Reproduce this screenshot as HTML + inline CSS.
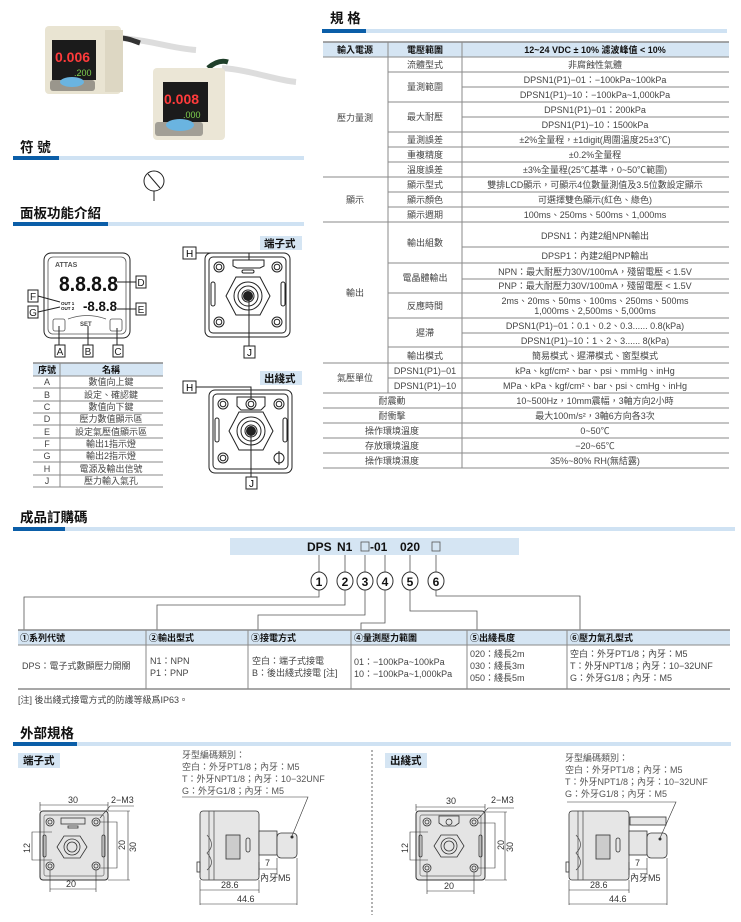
<!DOCTYPE html>
<html><head><meta charset="utf-8"><style>
html,body{margin:0;padding:0;background:#fff;}
svg{display:block;font-family:"Liberation Sans","Noto Sans CJK TC",sans-serif;}
.t{font-size:9px;fill:#444;}
.h{font-size:13.5px;font-weight:bold;fill:#111;}
.b{font-weight:bold;fill:#111;}
.ln{stroke:#8a8a8a;stroke-width:1;fill:none;}
.k{stroke:#222;stroke-width:1;fill:none;}
.g{stroke:#555;stroke-width:0.8;fill:none;}
</style></head><body>
<svg width="741" height="922" viewBox="0 0 741 922" xmlns="http://www.w3.org/2000/svg">
<!-- product photos -->
<path d="M120,38 C150,40 170,48 196,50" stroke="#ddd" stroke-width="6" fill="none"/>
<path d="M120,38 C128,38 134,41 140,43" stroke="#333" stroke-width="5" fill="none"/>
<rect x="45" y="26" width="76" height="68" rx="4" fill="#e9e4d2"/>
<rect x="105" y="30" width="18" height="62" fill="#ddd7c3"/>
<rect x="52" y="40" width="44" height="40" fill="#1b1b1b"/>
<text x="55" y="62" font-size="14" fill="#ff3b3b" font-weight="bold">0.006</text>
<text x="74" y="76" font-size="9" fill="#7fd04f">.200</text>
<rect x="50" y="80" width="45" height="11" rx="3" fill="#9a968c"/>
<ellipse cx="72" cy="82" rx="12" ry="5" fill="#6ab4e0"/>
<path d="M222,68 C250,70 275,80 296,82" stroke="#ddd" stroke-width="6" fill="none"/>
<path d="M208,68 C215,62 222,60 228,62" stroke="#1f3f2a" stroke-width="5" fill="none"/>
<rect x="153" y="68" width="72" height="72" rx="4" fill="#ebe6d6"/>
<rect x="163" y="82" width="45" height="40" fill="#1b1b1b"/>
<text x="164" y="104" font-size="14" fill="#ff3b3b" font-weight="bold">0.008</text>
<text x="183" y="118" font-size="9" fill="#7fd04f">.000</text>
<rect x="155" y="122" width="48" height="14" rx="3" fill="#a29f96"/>
<ellipse cx="180" cy="125" rx="14" ry="6" fill="#6ab4e0"/>

<!-- section headers -->
<text x="330" y="23" class="h">規 格</text>
<rect x="322" y="29" width="44" height="4" fill="#0b5ea8"/><rect x="366" y="29" width="361" height="4" fill="#cfe2f3"/>
<text x="20" y="152" class="h">符 號</text>
<rect x="13" y="156" width="46" height="4" fill="#0b5ea8"/><rect x="59" y="156" width="245" height="4" fill="#cfe2f3"/>
<text x="20" y="218" class="h">面板功能介紹</text>
<rect x="13" y="222" width="95" height="4" fill="#0b5ea8"/><rect x="108" y="222" width="196" height="4" fill="#cfe2f3"/>
<text x="20" y="522" class="h">成品訂購碼</text>
<rect x="13" y="527" width="52" height="4" fill="#0b5ea8"/><rect x="65" y="527" width="670" height="4" fill="#cfe2f3"/>
<text x="20" y="738" class="h">外部規格</text>
<rect x="13" y="742" width="64" height="4" fill="#0b5ea8"/><rect x="77" y="742" width="654" height="4" fill="#cfe2f3"/>

<!-- symbol -->
<circle cx="154" cy="181" r="10" class="k"/>
<line x1="148" y1="174" x2="160" y2="188" class="k"/>
<line x1="154" y1="191" x2="154" y2="201" class="k"/>

<!-- SPEC TABLE -->
<rect x="323" y="42" width="406" height="15" fill="#d5e5f3"/>
<g class="ln">
<line x1="323" y1="42" x2="729" y2="42" stroke-width="1.5"/>
<line x1="388" y1="42" x2="388" y2="393"/><line x1="462" y1="42" x2="462" y2="468"/>
<path d="M462 57H729M462 72H729M462 87H729M462 102H729M462 117H729M462 132H729M462 147H729M462 162H729M462 177H729M462 192H729M462 207H729M462 222H729M462 247H729M462 263H729M462 279H729M462 293H729M462 318H729M462 333H729M462 347H729M462 363H729M462 378H729M462 393H729M462 408H729M462 423H729M462 438H729M462 453H729M462 468H729"/>
<path d="M388 57H462M388 72H462M388 102H462M388 132H462M388 147H462M388 162H462M388 177H462M388 192H462M388 207H462M388 222H462M388 263H462M388 293H462M388 318H462M388 347H462M388 363H462M388 378H462"/>
<path d="M323 57H388M323 177H388M323 222H388M323 363H388M323 393H462M323 408H462M323 423H462M323 438H462M323 453H462M323 468H462"/>
</g>
<g class="t" text-anchor="middle">
<text x="355" y="53" class="b" style="font-size:9px">輸入電源</text>
<text x="425" y="53" class="b" style="font-size:9px">電壓範圍</text>
<text x="595" y="53" class="b" style="font-size:9px">12~24 VDC ± 10%  濾波峰值 &lt; 10%</text>
<text x="355" y="121">壓力量測</text><text x="355" y="203">顯示</text><text x="355" y="296">輸出</text><text x="355" y="381">氣壓單位</text>
<text x="425" y="68">流體型式</text><text x="425" y="90">量測範圍</text><text x="425" y="120">最大耐壓</text>
<text x="425" y="143">量測誤差</text><text x="425" y="158">重複精度</text><text x="425" y="173">溫度誤差</text>
<text x="425" y="188">顯示型式</text><text x="425" y="203">顯示顏色</text><text x="425" y="218">顯示週期</text>
<text x="425" y="246">輸出組數</text><text x="425" y="281">電晶體輸出</text><text x="425" y="309">反應時間</text>
<text x="425" y="336">遲滯</text><text x="425" y="359">輸出模式</text>
<text x="425" y="374">DPSN1(P1)−01</text><text x="425" y="389">DPSN1(P1)−10</text>
<text x="392" y="404">耐震動</text><text x="392" y="419">耐衝擊</text><text x="392" y="434">操作環境溫度</text><text x="392" y="449">存放環境溫度</text><text x="392" y="464">操作環境濕度</text>
<text x="595" y="68">非腐蝕性氣體</text>
<text x="595" y="83">DPSN1(P1)−01：−100kPa~100kPa</text>
<text x="595" y="98">DPSN1(P1)−10：−100kPa~1,000kPa</text>
<text x="595" y="113">DPSN1(P1)−01：200kPa</text>
<text x="595" y="128">DPSN1(P1)−10：1500kPa</text>
<text x="595" y="143">±2%全量程，±1digit(周圍溫度25±3℃)</text>
<text x="595" y="158">±0.2%全量程</text>
<text x="595" y="173">±3%全量程(25℃基準，0~50℃範圍)</text>
<text x="595" y="188">雙排LCD顯示，可顯示4位數量測值及3.5位數設定顯示</text>
<text x="595" y="203">可選擇雙色顯示(紅色、綠色)</text>
<text x="595" y="218">100ms、250ms、500ms、1,000ms</text>
<text x="595" y="239">DPSN1：內建2組NPN輸出</text>
<text x="595" y="259">DPSP1：內建2組PNP輸出</text>
<text x="595" y="275">NPN：最大耐壓力30V/100mA，殘留電壓 &lt; 1.5V</text>
<text x="595" y="289">PNP：最大耐壓力30V/100mA，殘留電壓 &lt; 1.5V</text>
<text x="595" y="304">2ms、20ms、50ms、100ms、250ms、500ms</text>
<text x="595" y="314">1,000ms、2,500ms、5,000ms</text>
<text x="595" y="329">DPSN1(P1)−01：0.1、0.2、0.3...... 0.8(kPa)</text>
<text x="595" y="344">DPSN1(P1)−10：1、2、3...... 8(kPa)</text>
<text x="595" y="359">簡易模式、遲滯模式、窗型模式</text>
<text x="595" y="374">kPa、kgf/cm²、bar、psi、mmHg、inHg</text>
<text x="595" y="389">MPa、kPa、kgf/cm²、bar、psi、cmHg、inHg</text>
<text x="595" y="404">10~500Hz，10mm震幅，3軸方向2小時</text>
<text x="595" y="419">最大100m/s²，3軸6方向各3次</text>
<text x="595" y="434">0~50℃</text>
<text x="595" y="449">−20~65℃</text>
<text x="595" y="464">35%~80% RH(無結露)</text>
</g>

<!-- PANEL front -->
<rect x="44" y="253" width="86" height="85" rx="7" class="k" stroke-width="1.3"/>
<rect x="48" y="257" width="78" height="77" rx="5" class="g" stroke="#bbb"/>
<text x="55" y="267" font-size="7" font-weight="bold" fill="#555">ATTAS</text>
<text x="59" y="291" font-size="21" font-weight="bold" fill="#111" textLength="59" lengthAdjust="spacingAndGlyphs">8.8.8.8</text>
<text x="83" y="311" font-size="14" font-weight="bold" fill="#111" textLength="34" lengthAdjust="spacingAndGlyphs">-8.8.8</text>
<text x="61" y="305" font-size="4.5" font-weight="bold" fill="#111">OUT 1</text>
<text x="61" y="310" font-size="4.5" font-weight="bold" fill="#111">OUT 2</text>
<rect x="53" y="319" width="12" height="12" rx="2" class="g"/>
<rect x="110" y="319" width="12" height="12" rx="2" class="g"/>
<path d="M68 319 Q87 312 106 319" class="g" stroke="#aaa"/>
<text x="80" y="326" font-size="6" font-weight="bold" fill="#444">SET</text>
<g class="k">
<rect x="136" y="276" width="10" height="12"/><line x1="117" y1="282" x2="136" y2="282"/>
<rect x="136" y="303" width="10" height="12"/><line x1="117" y1="309" x2="136" y2="309"/>
<rect x="28" y="290" width="10" height="12"/><path d="M38 296 L60 302"/>
<rect x="28" y="306" width="10" height="12"/><path d="M38 312 L60 307"/>
<rect x="55" y="345" width="10" height="12"/><line x1="59" y1="326" x2="59" y2="345"/>
<rect x="83" y="345" width="10" height="12"/><line x1="88" y1="326" x2="88" y2="345"/>
<rect x="113" y="345" width="10" height="12"/><line x1="117" y1="328" x2="117" y2="345"/>
</g>
<g font-size="10" fill="#222" text-anchor="middle">
<text x="141" y="286">D</text><text x="141" y="313">E</text><text x="33" y="300">F</text><text x="33" y="316">G</text>
<text x="60" y="355">A</text><text x="88" y="355">B</text><text x="118" y="355">C</text>
</g>

<!-- panel table -->
<rect x="33" y="363" width="130" height="13" fill="#d5e5f3"/>
<g class="ln">
<line x1="33" y1="363" x2="163" y2="363" stroke-width="1.5"/>
<line x1="60" y1="363" x2="60" y2="487"/>
<path d="M33 376H163M33 388H163M33 401H163M33 413H163M33 425H163M33 438H163M33 450H163M33 462H163M33 475H163M33 487H163"/>
</g>
<g class="t" text-anchor="middle">
<text x="47" y="373" class="b">序號</text><text x="111" y="373" class="b">名稱</text>
<text x="47" y="385">A</text><text x="111" y="385">數值向上鍵</text>
<text x="47" y="398">B</text><text x="111" y="398">設定、確認鍵</text>
<text x="47" y="410">C</text><text x="111" y="410">數值向下鍵</text>
<text x="47" y="422">D</text><text x="111" y="422">壓力數值顯示區</text>
<text x="47" y="435">E</text><text x="111" y="435">設定氣壓值顯示區</text>
<text x="47" y="447">F</text><text x="111" y="447">輸出1指示燈</text>
<text x="47" y="459">G</text><text x="111" y="459">輸出2指示燈</text>
<text x="47" y="472">H</text><text x="111" y="472">電源及輸出信號</text>
<text x="47" y="484">J</text><text x="111" y="484">壓力輸入氣孔</text>
</g>

<!-- back view 端子式 -->
<rect x="260" y="236" width="42" height="14" fill="#d5e5f3"/>
<text x="264" y="247" font-size="10.5" class="b">端子式</text>
<g class="k" stroke-width="1.2">
<rect x="205" y="253" width="85" height="84" rx="6"/>
<rect x="209" y="257" width="77" height="76" rx="4"/>
<circle cx="219" cy="267" r="5"/><circle cx="219" cy="267" r="2.8"/>
<circle cx="277" cy="267" r="5"/><circle cx="277" cy="267" r="2.8"/>
<circle cx="219" cy="322" r="5"/><circle cx="219" cy="322" r="2.8"/>
<circle cx="277" cy="322" r="5"/><circle cx="277" cy="322" r="2.8"/>
<path d="M233 260 H264 V266 L260 268 H237 L233 266 Z"/>
<rect x="242" y="270" width="12" height="3" rx="1.5"/>
<rect x="211" y="282" width="4" height="24" rx="2"/><rect x="281" y="282" width="4" height="24" rx="2"/>
<polygon points="236,277 260,277 270,296 260,315 236,315 226,296"/>
<circle cx="248" cy="296" r="14"/><circle cx="248" cy="296" r="10"/><circle cx="248" cy="296" r="6"/>
<path d="M196 253 H249 V260"/>
<line x1="249" y1="296" x2="249" y2="346"/>
</g>
<circle cx="248" cy="296" r="5" fill="#222"/>
<rect x="183" y="247" width="13" height="12" class="k"/><text x="186" y="257" font-size="10">H</text>
<rect x="244" y="346" width="11" height="12" class="k"/><text x="247" y="356" font-size="10">J</text>

<!-- back view 出綫式 -->
<rect x="260" y="371" width="42" height="14" fill="#d5e5f3"/>
<text x="264" y="382" font-size="10.5" class="b">出綫式</text>
<g class="k" stroke-width="1.2">
<rect x="209" y="390" width="83" height="83" rx="6"/>
<rect x="213" y="394" width="75" height="75" rx="4"/>
<circle cx="223" cy="404" r="5"/><circle cx="223" cy="404" r="2.8"/>
<circle cx="279" cy="404" r="5"/><circle cx="279" cy="404" r="2.8"/>
<circle cx="223" cy="458" r="5"/><circle cx="223" cy="458" r="2.8"/>
<circle cx="279" cy="458" r="5"/><line x1="279" y1="451" x2="279" y2="465"/>
<path d="M237 397 H265 V406 L261 410 H241 L237 406 Z"/>
<circle cx="251" cy="404" r="5"/><circle cx="251" cy="404" r="2.8"/>
<rect x="215" y="418" width="4" height="24" rx="2"/><rect x="283" y="418" width="4" height="24" rx="2"/>
<polygon points="239,412 263,412 273,431 263,450 239,450 229,431"/>
<circle cx="251" cy="431" r="14"/><circle cx="251" cy="431" r="10"/><circle cx="251" cy="431" r="6"/>
<path d="M196 387 H251 V399"/>
<line x1="251" y1="431" x2="251" y2="477"/>
</g>
<circle cx="251" cy="431" r="5" fill="#222"/>
<rect x="183" y="381" width="13" height="12" class="k"/><text x="186" y="391" font-size="10">H</text>
<rect x="246" y="477" width="11" height="12" class="k"/><text x="249" y="487" font-size="10">J</text>

<!-- ORDER CODE -->
<rect x="230" y="538" width="289" height="17" fill="#d5e5f3"/>
<text x="307" y="551" font-size="12" class="b">DPS</text>
<text x="337" y="551" font-size="12" class="b">N1</text>
<rect x="361" y="542" width="8" height="9" class="g"/>
<text x="370" y="551" font-size="12" class="b">-01</text>
<text x="400" y="551" font-size="12" class="b">020</text>
<rect x="432" y="542" width="8" height="9" class="g"/>
<g class="g" stroke="#666">
<path d="M319 555V573M345 555V573M365 555V573M385 555V573M410 555V573M436 555V573"/>
<path d="M319 590V597H24V630"/>
<path d="M345 590V605H157V630"/>
<path d="M365 590V615H258V630"/>
<path d="M385 590V623H361V630"/>
<path d="M410 590V611H477V630"/>
<path d="M436 590V596H580V630"/>
</g>
<g fill="#fff" stroke="#333" stroke-width="1">
<ellipse cx="319" cy="581" rx="8" ry="9"/><ellipse cx="345" cy="581" rx="8" ry="9"/><ellipse cx="365" cy="581" rx="8" ry="9"/>
<ellipse cx="385" cy="581" rx="8" ry="9"/><ellipse cx="410" cy="581" rx="8" ry="9"/><ellipse cx="436" cy="581" rx="8" ry="9"/>
</g>
<g font-size="12" class="b" text-anchor="middle">
<text x="319" y="586">1</text><text x="345" y="586">2</text><text x="365" y="586">3</text>
<text x="385" y="586">4</text><text x="410" y="586">5</text><text x="436" y="586">6</text>
</g>
<rect x="18" y="630" width="712" height="15" fill="#d5e5f3"/>
<g class="ln">
<line x1="18" y1="630" x2="730" y2="630" stroke-width="1.5"/>
<line x1="18" y1="645" x2="730" y2="645"/>
<line x1="18" y1="689" x2="730" y2="689" stroke-width="1.5"/>
<path d="M146 630V689M248 630V689M351 630V689M467 630V689M567 630V689"/>
</g>
<g font-size="9" class="b">
<text x="20" y="641">①系列代號</text><text x="149" y="641">②輸出型式</text><text x="251" y="641">③接電方式</text>
<text x="354" y="641">④量測壓力範圍</text><text x="470" y="641">⑤出綫長度</text><text x="570" y="641">⑥壓力氣孔型式</text>
</g>
<g class="t">
<text x="22" y="669">DPS：電子式數顯壓力開關</text>
<text x="150" y="664">N1：NPN</text><text x="150" y="676">P1：PNP</text>
<text x="252" y="664">空白：端子式接電</text><text x="252" y="676">B：後出綫式接電 [注]</text>
<text x="354" y="665">01：−100kPa~100kPa</text><text x="354" y="677">10：−100kPa~1,000kPa</text>
<text x="470" y="657">020：綫長2m</text><text x="470" y="669">030：綫長3m</text><text x="470" y="681">050：綫長5m</text>
<text x="570" y="657">空白：外牙PT1/8；內牙：M5</text><text x="570" y="669">T：外牙NPT1/8；內牙：10−32UNF</text><text x="570" y="681">G：外牙G1/8；內牙：M5</text>
<text x="18" y="703">[注] 後出綫式接電方式的防護等級爲IP63。</text>
</g>

<!-- EXTERNAL -->
<line x1="372" y1="750" x2="372" y2="915" stroke="#666" stroke-dasharray="2,2"/>
<rect x="18" y="753" width="42" height="15" fill="#d5e5f3"/>
<text x="23" y="764" font-size="10.5" class="b">端子式</text>
<rect x="385" y="753" width="42" height="15" fill="#d5e5f3"/>
<text x="390" y="764" font-size="10.5" class="b">出綫式</text>

<rect x="40" y="811" width="68" height="69" rx="3" fill="#e4e4e4" stroke="#333"/>
<rect x="44" y="815" width="60" height="61" rx="2" fill="none" stroke="#666" stroke-width="0.7"/>
<g stroke="#333" stroke-width="0.8" fill="none">
<circle cx="50" cy="822" r="4"/><circle cx="50" cy="822" r="2"/><circle cx="96" cy="822" r="4"/><circle cx="96" cy="822" r="2"/>
<circle cx="50" cy="866" r="4"/><circle cx="50" cy="866" r="2"/><circle cx="96" cy="866" r="4"/><circle cx="96" cy="866" r="2"/>
<rect x="61" y="818" width="24" height="6"/><rect x="68" y="826" width="10" height="2"/>
<rect x="43" y="835" width="3" height="22" rx="1.5"/><rect x="102" y="835" width="3" height="22" rx="1.5"/>
<polygon points="64,836 80,836 87,847 80,858 64,858 57,847"/>
<circle cx="72" cy="847" r="8"/><circle cx="72" cy="847" r="5"/>
</g>
<g stroke="#333" stroke-width="0.6" fill="none">
<path d="M40 805H108M40 802V811M108 802V811"/><path d="M100 818L110 806H134"/>
<path d="M100 822H117V868H100M117 822V868"/><path d="M108 811H130M108 880H130M128 811V880"/>
<path d="M52 832H32V860H52M32 832V860"/><path d="M50 870V892M96 870V892M50 889H96"/>
</g>
<g font-size="9" fill="#333">
<text x="68" y="803">30</text><text x="111" y="803">2−M3</text><text x="66" y="887">20</text>
<text transform="translate(125,850) rotate(-90)">20</text><text transform="translate(136,852) rotate(-90)">30</text>
<text transform="translate(30,853) rotate(-90)">12</text>
</g>

<g fill="none" stroke="#333" stroke-width="0.8">
<rect x="200" y="811" width="59" height="69" rx="3" fill="#e6e6e6"/>
<path d="M209 811V880M214 811V880" stroke="#555"/>
<path d="M207 835Q216 845 207 853Q216 863 207 870" stroke="#555"/>
<rect x="226" y="835" width="14" height="24" fill="#ccc"/>
<rect x="246" y="838" width="4" height="14" rx="2"/>
<rect x="259" y="831" width="18" height="24" fill="#e6e6e6"/>
<rect x="277" y="833" width="20" height="25" rx="4" fill="#e6e6e6"/>
<rect x="197" y="862" width="3" height="10"/>
</g>
<g stroke="#333" stroke-width="0.6" fill="none">
<path d="M182 797H308L292 836"/>
<path d="M259 862V875M277 858V875M259 869H277"/>
<path d="M200 880V905M259 880V893M297 858V905M200 890H259M200 904H297"/>
</g>
<circle cx="292" cy="837" r="1.5" fill="#333"/>
<g font-size="9" fill="#555">
<text x="182" y="758">牙型編碼類別：</text><text x="182" y="770">空白：外牙PT1/8；內牙：M5</text>
<text x="182" y="782">T：外牙NPT1/8；內牙：10−32UNF</text><text x="182" y="794">G：外牙G1/8；內牙：M5</text>
</g>
<g font-size="9" fill="#333"><text x="265" y="866">7</text><text x="260" y="881">內牙M5</text><text x="221" y="888">28.6</text><text x="237" y="902">44.6</text></g>

<!-- right external -->
<rect x="416" y="811" width="69" height="69" rx="3" fill="#e4e4e4" stroke="#333"/>
<rect x="420" y="815" width="61" height="61" rx="2" fill="none" stroke="#666" stroke-width="0.7"/>
<g stroke="#333" stroke-width="0.8" fill="none">
<circle cx="427" cy="822" r="4"/><circle cx="427" cy="822" r="2"/><circle cx="474" cy="822" r="4"/><circle cx="474" cy="822" r="2"/>
<circle cx="427" cy="868" r="4"/><circle cx="427" cy="868" r="2"/><circle cx="474" cy="868" r="4"/><circle cx="474" cy="868" r="2"/>
<path d="M439 816H459V823L455 826H443L439 823Z"/><circle cx="449" cy="822" r="3"/>
<rect x="419" y="835" width="3" height="22" rx="1.5"/><rect x="479" y="835" width="3" height="22" rx="1.5"/>
<polygon points="441,835 457,835 464,846 457,857 441,857 434,846"/>
<circle cx="449" cy="846" r="8"/><circle cx="449" cy="846" r="5"/>
</g>
<g stroke="#333" stroke-width="0.6" fill="none">
<path d="M416 807H485M416 804V811M485 804V811"/><path d="M478 819L488 808H514"/>
<path d="M478 823H495V868H478M495 823V868"/><path d="M485 812H507M485 880H507M505 812V880"/>
<path d="M428 832H410V860H428M410 832V860"/><path d="M427 872V894M474 872V894M427 891H474"/>
</g>
<g font-size="9" fill="#333">
<text x="446" y="804">30</text><text x="491" y="803">2−M3</text><text x="444" y="889">20</text>
<text transform="translate(504,850) rotate(-90)">20</text><text transform="translate(513,852) rotate(-90)">30</text>
<text transform="translate(408,853) rotate(-90)">12</text>
</g>
<g fill="none" stroke="#333" stroke-width="0.8">
<rect x="630" y="817" width="36" height="8" fill="#e6e6e6"/>
<rect x="569" y="811" width="60" height="69" rx="3" fill="#e6e6e6"/>
<path d="M578 811V880M583 811V880" stroke="#555"/>
<path d="M576 835Q585 845 576 853Q585 863 576 870" stroke="#555"/>
<rect x="596" y="835" width="14" height="24" fill="#ccc"/>
<rect x="616" y="838" width="4" height="14" rx="2"/>
<rect x="629" y="831" width="18" height="24" fill="#e6e6e6"/>
<rect x="647" y="833" width="20" height="25" rx="4" fill="#e6e6e6"/>
<rect x="566" y="862" width="3" height="10"/>
</g>
<g stroke="#333" stroke-width="0.6" fill="none">
<path d="M567 802H676L660 838"/>
<path d="M629 862V875M647 858V875M629 869H647"/>
<path d="M569 880V905M629 880V893M667 858V905M569 890H629M569 904H667"/>
</g>
<circle cx="660" cy="839" r="1.5" fill="#333"/>
<g font-size="9" fill="#555">
<text x="565" y="761">牙型編碼類別：</text><text x="565" y="773">空白：外牙PT1/8；內牙：M5</text>
<text x="565" y="785">T：外牙NPT1/8；內牙：10−32UNF</text><text x="565" y="797">G：外牙G1/8；內牙：M5</text>
</g>
<g font-size="9" fill="#333"><text x="635" y="866">7</text><text x="630" y="881">內牙M5</text><text x="590" y="888">28.6</text><text x="609" y="902">44.6</text></g>
</svg>
</body></html>
